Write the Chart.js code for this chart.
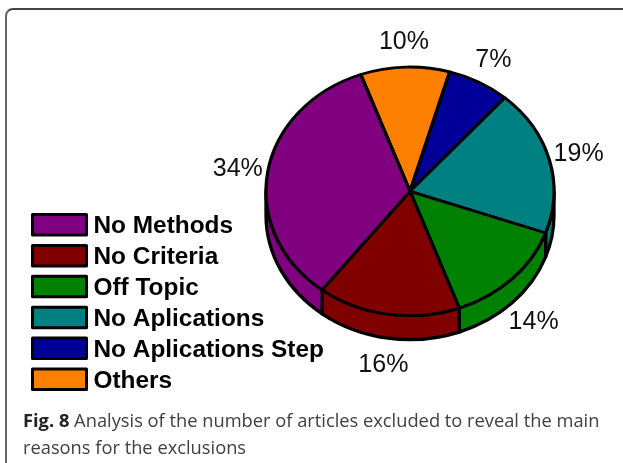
<!DOCTYPE html>
<html>
<head>
<meta charset="utf-8">
<title>Fig. 8</title>
<script src="https://cdn.jsdelivr.net/npm/chart.js@4"></script>
<style>
html, body { margin: 0; padding: 0; background: #fff; }
#page { position: relative; width: 623px; height: 463px; overflow: hidden; }
#frame {
  position: absolute; left: 5px; top: 8px; width: 640px; height: 500px;
  border-left: 2px solid #666; border-top: 2px solid #444; border-top-left-radius: 8px;
}
#exclusions { position: absolute; left: 0; top: 0; }
#caption {
  position: absolute; left: 23px; top: 406px; width: 598px;
  font: 18.3px/27px "Open Sans", sans-serif; color: #404040;
}
#caption b { color: #222; }
</style>
</head>
<body>
<div id="page">
<div id="frame"></div>
<canvas id="exclusions" width="623" height="463"></canvas>
<div id="caption"><b>Fig. 8</b> Analysis of the number of articles excluded to reveal the main<br>reasons for the exclusions</div>
</div>

<script>

// clockwise round the pie, starting at the orange slice
const reasons = ["Others", "No Aplications Step", "No Aplications", "Off Topic", "No Criteria", "No Methods"];
const shares = [10, 7, 19, 14, 16, 34];
const sliceColors = ["#ff8000", "#000099", "#008080", "#008000", "#800000", "#800080"];

const squash = 0.863;   // tilt of the disc
const depth = 24;       // height of the side wall


// draws the side wall, then flattens the circle the library draws
const tiltedPie = {
  id: "tiltedPie",
  beforeDatasetsDraw(chart) {
    const ctx = chart.ctx;
    const arcs = chart.getDatasetMeta(0).data;
    ctx.save();
    ctx.lineWidth = 3.3;
    ctx.strokeStyle = "#000";
    ctx.lineJoin = "round";
    arcs.forEach(arc => {
      const from = Math.max(arc.startAngle, 0);
      const to = Math.min(arc.endAngle, Math.PI);
      if (from >= to) return;
      const rx = arc.outerRadius;
      const ry = rx * squash;
      ctx.beginPath();
      ctx.ellipse(arc.x, arc.y + depth, rx, ry, 0, from, to);
      ctx.ellipse(arc.x, arc.y, rx, ry, 0, to, from, true);
      ctx.closePath();
      ctx.fillStyle = arc.options.backgroundColor;
      ctx.fill();
      ctx.stroke();
    });
    ctx.restore();

    const cy = arcs[0].y;
    ctx.save();
    ctx.translate(0, cy);
    ctx.scale(1, squash);
    ctx.translate(0, -cy);
  },
  afterDatasetsDraw(chart) {
    chart.ctx.restore();
  },
  afterDraw(chart) {
    const ctx = chart.ctx;
    const arcs = chart.getDatasetMeta(0).data;

    // percent labels
    ctx.save();
    ctx.font = "25px 'Liberation Sans', sans-serif";
    ctx.fillStyle = "#111";
    ctx.textAlign = "center";
    ctx.textBaseline = "middle";
    arcs.forEach((arc, i) => {
      const mid = (arc.startAngle + arc.endAngle) / 2;
      const r = arc.outerRadius * 1.21;
      const x = arc.x + Math.cos(mid) * r;
      let y = arc.y + Math.sin(mid) * r * squash;
      if (Math.sin(mid) > 0) y += depth;
      ctx.fillText(shares[i] + "%", x, y + 1);
    });

    // legend, same order as the reference (reverse of the slices)
    ctx.font = "bold 24.4px 'Liberation Sans', sans-serif";
    ctx.textAlign = "left";
    ctx.lineWidth = 3;
    ctx.lineJoin = "round";
    ctx.strokeStyle = "#000";
    reasons.slice().reverse().forEach((name, i) => {
      const top = 214.5 + i * 30.9;
      ctx.fillStyle = sliceColors[reasons.length - 1 - i];
      ctx.fillRect(32.5, top, 54, 20.5);
      ctx.strokeRect(32.5, top, 54, 20.5);
      ctx.fillStyle = "#000";
      ctx.fillText(name, 93.5, top + 12);
    });
    ctx.restore();
  }
};


new Chart(document.getElementById("exclusions"), {

  type: "pie",

  data: {
    labels: reasons,
    datasets: [{
      data: shares,
      backgroundColor: sliceColors,
      borderColor: "#000",
      borderWidth: 3.3,
      borderJoinStyle: "round"
    }]
  },

  options: {
    responsive: false,
    animation: false,
    rotation: -20,
    radius: 144,
    layout: {
      padding: { left: 264, right: 67, top: 45.3, bottom: 125.7 }
    },
    plugins: {
      legend: { display: false },
      tooltip: { enabled: false }
    }
  },

  plugins: [tiltedPie]

});

</script>
</body>
</html>
